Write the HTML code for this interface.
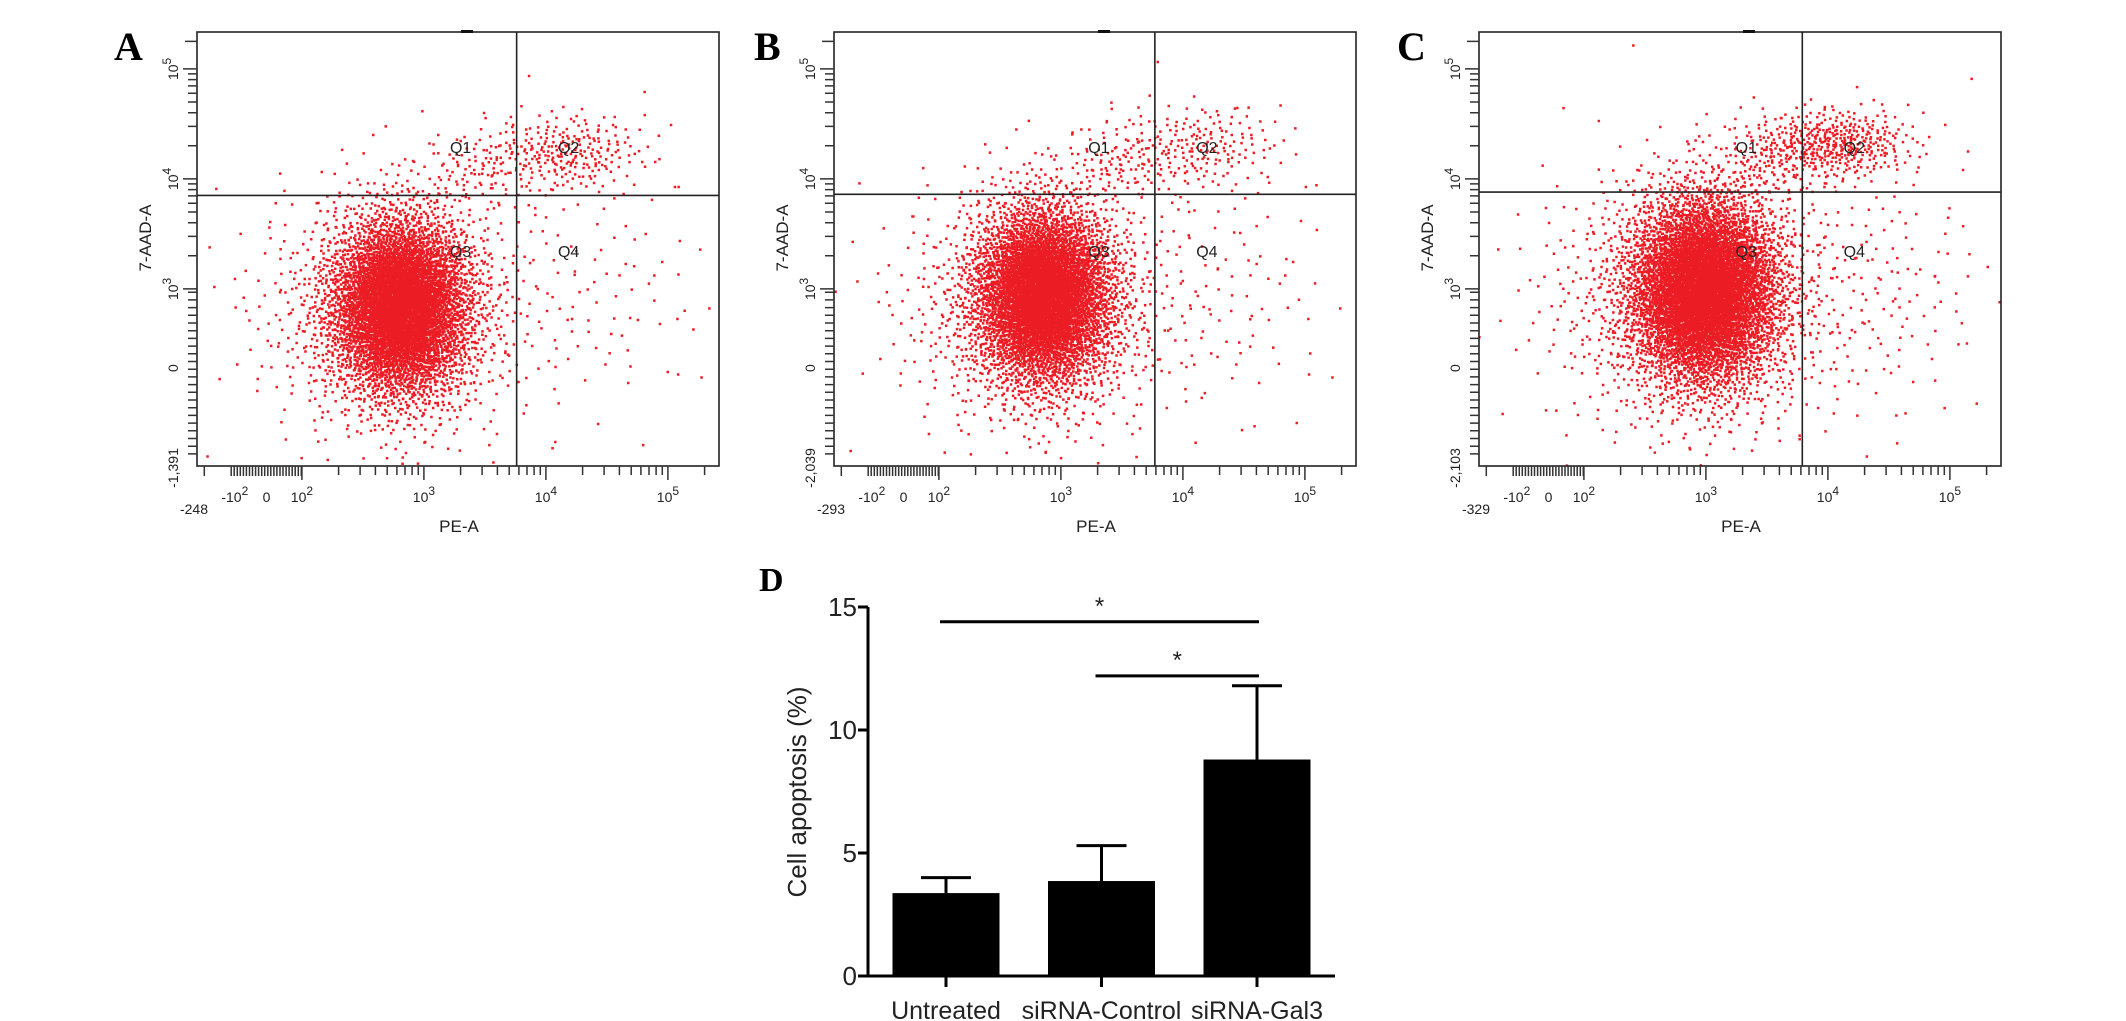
<!DOCTYPE html>
<html><head><meta charset="utf-8"><style>
html,body{margin:0;padding:0;background:#fff;}
svg{display:block;}
text{font-family:"Liberation Sans",Arial,sans-serif;fill:#222;}
.lt{font-family:"Liberation Serif",serif;font-weight:bold;fill:#000;}
</style></head><body>
<svg id="fig" width="2126" height="1021" viewBox="0 0 2126 1021" xmlns="http://www.w3.org/2000/svg">
<rect width="2126" height="1021" fill="#fff"/>
</svg>
<script>
// ---------- bar chart data ----------
const cats = ["Untreated", "siRNA-Control", "siRNA-Gal3"];
const means = [3.37, 3.86, 8.8];
const sems = [0.63, 1.44, 3.0];
const yTicks = [0, 5, 10, 15];
const sigPairs = [[0, 2], [1, 2]];
const sigLevels = [14.4, 12.2];

// ---------- flow cytometry data (blobs in log-decade units: cx, cy, sx, sy, n) ----------
const panelNames = ["A", "B", "C"];
const blobsA = [[2.80, 2.85, 0.28, 0.40, 5200], [2.75, 2.80, 0.55, 0.58, 900], [4.15, 4.25, 0.33, 0.18, 260], [3.45, 4.10, 0.25, 0.18, 90], [4.40, 2.95, 0.50, 0.60, 90]];
const blobsB = [[2.85, 2.95, 0.28, 0.40, 5200], [2.80, 2.85, 0.55, 0.58, 900], [4.10, 4.30, 0.35, 0.20, 200], [3.45, 4.15, 0.25, 0.18, 90], [4.35, 2.95, 0.50, 0.60, 100]];
const blobsC = [[2.98, 3.00, 0.30, 0.42, 6000], [2.92, 2.90, 0.58, 0.60, 1100], [4.05, 4.33, 0.32, 0.16, 420], [3.50, 4.20, 0.22, 0.18, 110], [4.40, 3.00, 0.50, 0.60, 140]];
const gateX = [3.76, 3.77, 3.79];
const gateY = [3.85, 3.86, 3.88];
const lowXLabels = ["-248", "-293", "-329"];
const lowYLabels = ["-1,391", "-2,039", "-2,103"];
const quadLabels = ["Q1", "Q2", "Q3", "Q4"];

const NS = "http://www.w3.org/2000/svg";
const svg = document.getElementById("fig");
function mk(tag, attrs, parent, txt) {
  const e = document.createElementNS(NS, tag);
  for (const k in attrs) e.setAttribute(k, attrs[k]);
  if (txt !== undefined) e.textContent = txt;
  (parent || svg).appendChild(e);
  return e;
}
function halton(i, b) { let f = 1, r = 0; while (i > 0) { f /= b; r += f * (i % b); i = Math.floor(i / b); } return r; }

// ---------- flow panels ----------
const frameLefts = [197, 834, 1479];
const letterX = [114, 754, 1397];
const allBlobs = [blobsA, blobsB, blobsC];
const FT = 32, FB = 466, FW = 522;
for (let p = 0; p < 3; p++) {
  const ox = frameLefts[p];
  const xs = u => ox + (u - 1.14) * 122;
  const ys = v => FB - (v - 1.39) * 110;
  const g = mk("g", {});
  
  
  const lt = mk("text", {x: letterX[p], y: 60, "font-size": 40, class: "lt"}, g, panelNames[p]);
  
  
  const cp = mk("clipPath", {id: "clip" + p}, g);
  mk("rect", {x: ox, y: FT, width: FW, height: FB - FT}, cp);
  let d = "", idx = 1;
  for (const b of allBlobs[p]) {
    for (let k = 0; k < b[4]; k++, idx++) {
      const u1 = Math.max(halton(idx, 2), 1e-6), u2 = halton(idx, 3);
      const r = Math.sqrt(-2 * Math.log(u1));
      const x = xs(b[0] + b[2] * r * Math.cos(2 * Math.PI * u2));
      const y = ys(b[1] + b[3] * r * Math.sin(2 * Math.PI * u2));
      d += "M" + x.toFixed(1) + " " + y.toFixed(1) + "h2.5v2.5h-2.5z";
    }
  }
  const dots = mk("path", {d: d, fill: "#ec1c24", "clip-path": "url(#clip" + p + ")"}, g);
  
  
  const fr = mk("rect", {x: ox, y: FT, width: FW, height: FB - FT, fill: "none", stroke: "#222", "stroke-width": 1.6}, g);
  
  
  mk("rect", {x: ox + 264, y: FT - 2, width: 12, height: 3, fill: "#111"}, g);
  const gv = mk("line", {x1: xs(gateX[p]), x2: xs(gateX[p]), y1: FT, y2: FB, stroke: "#222", "stroke-width": 1.6}, g);
  
  
  const gh = mk("line", {x1: ox, x2: ox + FW, y1: ys(gateY[p]), y2: ys(gateY[p]), stroke: "#222", "stroke-width": 1.6}, g);
  
  
  const qx = [xs(gateX[p]) - 56, xs(gateX[p]) + 52, xs(gateX[p]) - 56, xs(gateX[p]) + 52];
  const qy = [153, 153, 257, 257];
  for (let q = 0; q < 4; q++) {
    const t = mk("text", {x: qx[q], y: qy[q], "font-size": 16, "text-anchor": "middle"}, g, quadLabels[q]);
    
    
  }
  let td = "";
  for (let dec = 2; dec <= 5; dec++) {
    for (let k = 1; k <= 9; k++) {
      const u = dec + Math.log10(k);
      if (u > 5.4) break;
      td += "M" + xs(u).toFixed(1) + " " + FB + "v" + (k === 1 ? 14 : 9);
    }
  }
  for (let u = 1.42; u < 2.0; u += 0.025) td += "M" + xs(u).toFixed(1) + " " + FB + "v" + 10;
  td += "M" + xs(1.2).toFixed(1) + " " + FB + "v10";
  for (let dec = 3; dec <= 5; dec++) {
    for (let k = 1; k <= 9; k++) {
      const v = dec + Math.log10(k);
      if (v > 5.3) break;
      td += "M" + ox + " " + ys(v).toFixed(1) + "h" + (k === 1 ? -14 : -9);
    }
  }
  for (let v = 1.5; v < 3.0; v += 0.07) td += "M" + ox + " " + ys(v).toFixed(1) + "h-9";
  td += "M" + ox + " " + ys(5.25).toFixed(1) + "h-12";
  const ticks = mk("path", {d: td, stroke: "#333", "stroke-width": 1.5, fill: "none"}, g);
  
  
  const xl = [[1.45, "-10", "2"], [1.71, "0", ""], [2.0, "10", "2"], [3.0, "10", "3"], [4.0, "10", "4"], [5.0, "10", "5"]];
  for (const L of xl) {
    const t = mk("text", {x: xs(L[0]), y: 502, "font-size": 14, "text-anchor": "middle"}, g);
    mk("tspan", {}, t, L[1]);
    if (L[2]) mk("tspan", {dy: -7, "font-size": 12}, t, L[2]);
    
    
  }
  const t0 = mk("text", {x: ox - 3, y: 514, "font-size": 14, "text-anchor": "middle"}, g, lowXLabels[p]);
  
  
  const xt = mk("text", {x: ox + 262, y: 532, "font-size": 17, "text-anchor": "middle"}, g, "PE-A");
  
  
  const yl = [[2.28, "0", ""], [3.0, "10", "3"], [4.0, "10", "4"], [5.0, "10", "5"]];
  for (const L of yl) {
    const yy = ys(L[0]);
    const t = mk("text", {x: 0, y: 0, "font-size": 14, "text-anchor": "middle", transform: "translate(" + (ox - 19) + "," + yy + ") rotate(-90)"}, g);
    mk("tspan", {}, t, L[1]);
    if (L[2]) mk("tspan", {dy: -7, "font-size": 12}, t, L[2]);
    
    
  }
  const ty = mk("text", {x: 0, y: 0, "font-size": 14, "text-anchor": "middle", transform: "translate(" + (ox - 19) + ",468) rotate(-90)"}, g, lowYLabels[p]);
  
  
  const yt = mk("text", {x: 0, y: 0, "font-size": 17, "text-anchor": "middle", transform: "translate(" + (ox - 46) + ",238) rotate(-90)"}, g, "7-AAD-A");
  
  
}

// ---------- bar chart D ----------
const bx0 = 868, base = 976, perUnit = 24.6, c0 = 946, step = 155.5, bw = 107;
const yB = v => base - v * perUnit;
const xB = i => c0 + i * step;
const gd = mk("g", {});


const ld = mk("text", {x: 759, y: 591, "font-size": 34, class: "lt"}, gd, "D");


for (let i = 0; i < cats.length; i++) {
  const bar = mk("rect", {x: xB(i) - bw / 2, y: yB(means[i]), width: bw, height: base - yB(means[i]), fill: "#000"}, gd);
  
  
  const eb = mk("path", {d: "M" + xB(i) + " " + yB(means[i]) + "V" + yB(means[i] + sems[i]) + "M" + (xB(i) - 25) + " " + yB(means[i] + sems[i]) + "h50", stroke: "#000", "stroke-width": 3, fill: "none"}, gd);
  
  
  mk("line", {x1: xB(i), x2: xB(i), y1: base, y2: base + 11, stroke: "#000", "stroke-width": 3}, gd);
  const cl = mk("text", {x: xB(i), y: 1019, "font-size": 25, "text-anchor": "middle", fill: "#000"}, gd, cats[i]);
  
  
}
const ax = mk("path", {d: "M" + bx0 + " " + yB(15) + "V" + base + "H1335", stroke: "#000", "stroke-width": 3, fill: "none"}, gd);


for (const v of yTicks) {
  mk("line", {x1: bx0 - 10, x2: bx0, y1: yB(v), y2: yB(v), stroke: "#000", "stroke-width": 3}, gd);
  const t = mk("text", {x: bx0 - 11, y: yB(v) + 9, "font-size": 26, "text-anchor": "end", fill: "#000"}, gd, String(v));
  
  
}
const yTitle = mk("text", {x: 0, y: 0, "font-size": 26, "text-anchor": "middle", fill: "#000", transform: "translate(806,792) rotate(-90)"}, gd, "Cell apoptosis (%)");


for (let s = 0; s < sigPairs.length; s++) {
  const a = xB(sigPairs[s][0]) - 6, b = xB(sigPairs[s][1]) + 2, y = yB(sigLevels[s]);
  const ln = mk("line", {x1: a, x2: b, y1: y, y2: y, stroke: "#000", "stroke-width": 3}, gd);
  
  
  const st = mk("text", {x: (a + b) / 2, y: y - 8, "font-size": 24, "text-anchor": "middle", fill: "#000"}, gd, "*");
  
  
}
</script>
</body></html>
